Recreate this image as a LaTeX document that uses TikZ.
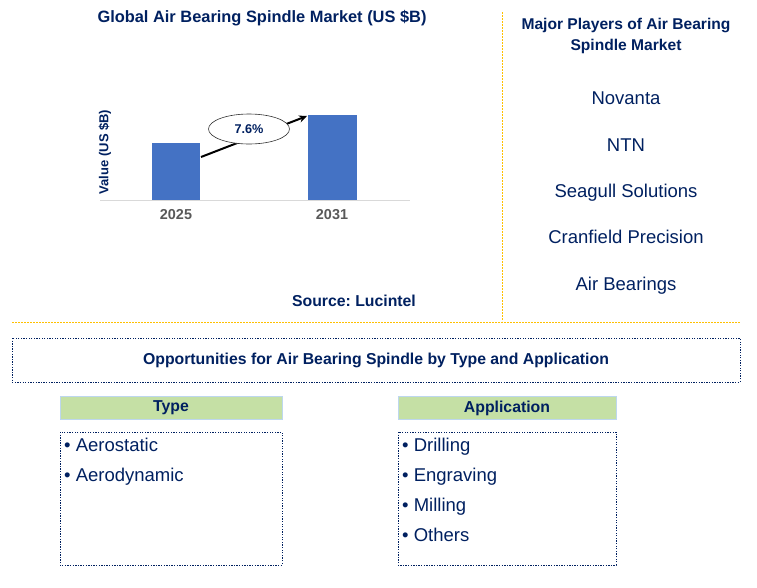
\documentclass[tikz,border=0pt]{standalone}
\usepackage{fontspec}
\setmainfont{Liberation Sans}
\usetikzlibrary{arrows.meta,shapes.geometric}
\definecolor{navy}{HTML}{002060}
\definecolor{barblue}{HTML}{4472C4}
\definecolor{gold}{HTML}{FFC000}
\definecolor{hdrgreen}{HTML}{C5E0A5}
\definecolor{hdrline}{HTML}{BDD7EE}
\definecolor{axisgray}{HTML}{D9D9D9}
\definecolor{yeargray}{HTML}{595959}
\frenchspacing
\tikzset{
  titre/.style={font=\bfseries\fontsize{15.8}{18}\selectfont, text=navy},
  joueur/.style={font=\fontsize{18.5}{22}\selectfont, text=navy, anchor=base},
  article/.style={font=\fontsize{18.5}{22}\selectfont, text=navy, anchor=base west, inner sep=0pt},
  annee/.style={font=\bfseries\fontsize{14.4}{17}\selectfont, text=yeargray},
  barre/.style={fill=barblue, draw=none},
  pointille/.style={draw=navy, line width=0.9pt, dash pattern=on 1.3pt off 1.3pt},
  separateur/.style={draw=gold, line width=0.8pt, dash pattern=on 2pt off 1pt},
  entete/.style={fill=hdrgreen, draw=hdrline, line width=0.8pt, titre}
}
\begin{document}
\begin{tikzpicture}[x=1pt,y=-1pt]  % ------ Le marche des broches a palier d'air ------
    \useasboundingbox (0,0) rectangle (757,587);
    \node [titre, font=\bfseries\fontsize{16.4}{19}\selectfont] (titreG) at (262,18) {Global Air Bearing Spindle Market (US \$B)};
    \node [font=\bfseries\fontsize{13}{15}\selectfont, text=navy, rotate=90] (axeY) at (105,152) {Value (US \$B)};
    \draw [axisgray, line width=0.8pt] (100,200) -- (410,200);
    \path [barre] (152,143) rectangle (200,200);
    \path [barre] (308,115) rectangle (357,200);
    \node [annee] (an1) at (176,215) {2025};
    \node [annee] (an2) at (332,215) {2031};
    \coordinate (depart) at (201,157);
    \coordinate (arrivee) at (307,116);
    \draw [line width=2pt, -{Stealth[length=8pt,width=7pt]}] (depart) -- (arrivee);
    \node [ellipse, draw=black!80, fill=white, line width=0.6pt, minimum width=81pt, minimum height=30pt, inner sep=0pt,
           font=\bfseries\fontsize{12.7}{15}\selectfont, text=navy] (taux) at (249,129) {7.6\%};
    \node [titre] (source) at (354,301) {Source: Lucintel};
    \draw [separateur] (502,12) -- (502,321);
    \draw [separateur] (12,322) -- (740,322);
    \node [titre, align=center, font=\bfseries\fontsize{15.6}{21}\selectfont] (joueurs) at (626,36) {Major Players of Air Bearing\\Spindle Market};
    \node [joueur] (j1) at (626,104.5) {Novanta};
    \node [joueur] (j2) at (626,151.5) {NTN};
    \node [joueur] (j3) at (626,197.5) {Seagull Solutions};
    \node [joueur] (j4) at (626,243.5) {Cranfield Precision};
    \node [joueur] (j5) at (626,290.5) {Air Bearings};
    \draw [pointille] (12,338) rectangle (740,382);
    \node [titre] (opport) at (376,360) {Opportunities for Air Bearing Spindle by Type and Application};
    \node [entete, minimum width=222pt, minimum height=23pt] (type) at (171,408) {Type};
    \node [entete, minimum width=218pt, minimum height=23pt] (appli) at (507,408) {Application};
    \draw [pointille] (60,432) rectangle (282,565);
    \draw [pointille] (398,432) rectangle (616,565);
    \node [article] (t1) at (64,451.5) {\textbullet\ Aerostatic};
    \node [article] (t2) at (64,481.5) {\textbullet\ Aerodynamic};
    \node [article] (a1) at (402,451.5) {\textbullet\ Drilling};
    \node [article] (a2) at (402,481.5) {\textbullet\ Engraving};
    \node [article] (a3) at (402,511.5) {\textbullet\ Milling};
    \node [article] (a4) at (402,541.5) {\textbullet\ Others};
\end{tikzpicture}
\end{document}
